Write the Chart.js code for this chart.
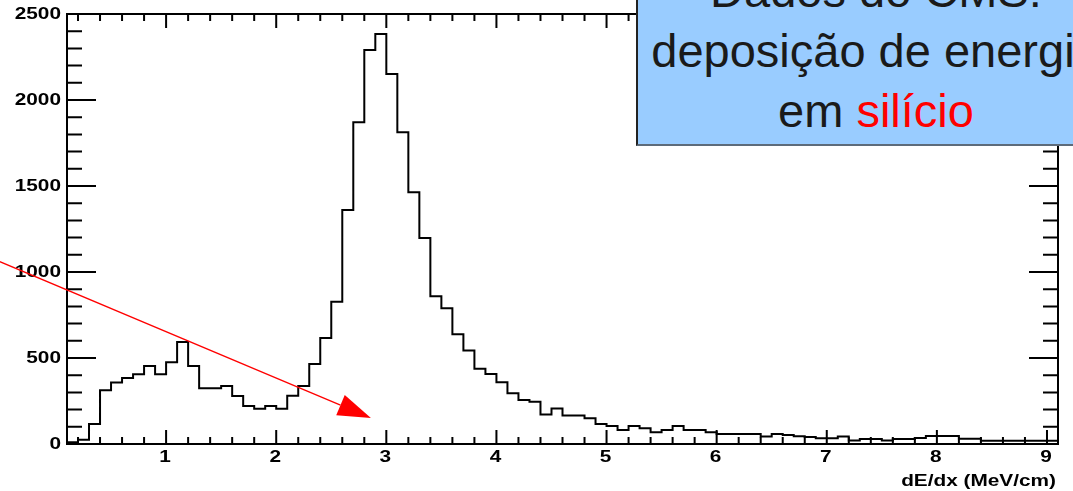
<!DOCTYPE html>
<html>
<head>
<meta charset="utf-8">
<script src="https://cdn.jsdelivr.net/npm/chart.js@4.4.1/dist/chart.umd.min.js"></script>
<style>
  body { margin: 0; background: #fff; }
  #wrap { position: relative; width: 1073px; height: 491px; overflow: hidden; }
  #note {
    position: absolute; left: 636px; top: -50px; width: 478px; height: 196px;
    box-sizing: border-box; background: #99ccff;
    border-left: 2px solid #222; border-bottom: 2px solid #5d6b7a;
    font-family: "Liberation Sans", Arial, sans-serif; font-size: 47px;
    line-height: 60px; color: #1a1a1a; text-align: center;
    padding-top: 11px; white-space: nowrap;
  }
  #note .red { color: #ff0000; }
</style>
</head>
<body>
<div id="wrap">
  <canvas id="chart" width="1073" height="491"></canvas>
  <div id="note">
    <div>Dados do CMS:</div>
    <div>deposição de energia</div>
    <div>em <span class="red">silício</span></div>
  </div>
</div>
<script>
// histogram of dE/dx, bins of 0.1 MeV/cm from 0.1 to 9.1
var binLow = 0.1;
var binWidth = 0.1;
var counts = [
    10, 25, 116, 312, 357, 384, 405, 453, 405, 475,
    593, 453, 324, 324, 337, 279, 221, 205, 221, 205,
    281, 337, 465, 616, 827, 1360, 1870, 2291, 2384, 2151,
    1812, 1463, 1198, 859, 789, 638, 543, 438, 407, 359,
    295, 256, 246, 172, 207, 165, 165, 149, 116, 105,
    81, 105, 91, 68, 81, 105, 81, 81, 68, 58,
    58, 58, 58, 43, 58, 52, 45, 40, 33, 33,
    43, 20, 29, 29, 20, 29, 29, 35, 47, 47,
    47, 31, 31, 19, 19, 19, 19, 19, 19, 19
];
var xTickLabels = ['1', '2', '3', '4', '5', '6', '7', '8', '9'];
var yTickLabels = ['0', '500', '1000', '1500', '2000', '2500'];
var xMinorStep = 0.2;
var yMinorStep = 100;
var axisTitle = 'dE/dx (MeV/cm)';

// red arrow, in data coordinates
var arrowFrom = [-0.51, 1060];
var arrowTo = [2.86, 151];

var xMin = binLow;
var xMax = Math.round((binLow + counts.length * binWidth) * 10) / 10;

// stepped outline: start on the baseline, one point per bin, close at the last edge
var points = [{x: xMin, y: 0}];
for (var i = 0; i < counts.length; i++) {
    points.push({x: Math.round((binLow + i * binWidth) * 10) / 10, y: counts[i]});
}
points.push({x: xMax, y: counts[counts.length - 1]});

function drawStretched(ctx, text, x, y, align) {
    ctx.save();
    ctx.translate(x, y);
    ctx.scale(1.3, 1);
    ctx.textAlign = align;
    ctx.fillText(text, 0, 0);
    ctx.restore();
}

// ROOT-like frame with ticks on all four sides
var rootFrame = {
    id: 'rootFrame',
    afterDatasetsDraw: function(chart) {
        var ctx = chart.ctx;
        var a = chart.chartArea;
        var xs = chart.scales.x;
        var ys = chart.scales.y;
        ctx.save();
        ctx.strokeStyle = '#000';
        ctx.lineWidth = 2;
        ctx.strokeRect(a.left, a.top, a.right - a.left, a.bottom - a.top);

        ctx.beginPath();
        for (var k = 1; k <= 50; k++) {
            var v = Math.round(k * xMinorStep * 10) / 10;
            if (v <= xMin || v >= xMax) continue;
            var px = xs.getPixelForValue(v);
            var len = (Math.abs(v - Math.round(v)) < 1e-6) ? 14 : 7;
            ctx.moveTo(px, a.bottom);
            ctx.lineTo(px, a.bottom - len);
            ctx.moveTo(px, a.top);
            ctx.lineTo(px, a.top + len);
        }
        for (var m = yMinorStep; m < ys.max; m += yMinorStep) {
            var py = ys.getPixelForValue(m);
            var ylen = (m % 500 === 0) ? 29 : 15;
            ctx.moveTo(a.left, py);
            ctx.lineTo(a.left + ylen, py);
            ctx.moveTo(a.right, py);
            ctx.lineTo(a.right - ylen, py);
        }
        ctx.stroke();

        ctx.fillStyle = '#000';
        ctx.font = 'bold 16px "Liberation Sans", Arial, sans-serif';
        ctx.textBaseline = 'middle';
        xTickLabels.forEach(function(t) {
            drawStretched(ctx, t, xs.getPixelForValue(Number(t)) - 1, a.bottom + 14, 'center');
        });
        yTickLabels.forEach(function(t) {
            drawStretched(ctx, t, a.left - 6, ys.getPixelForValue(Number(t)) + 1, 'right');
        });
        ctx.textBaseline = 'alphabetic';
        drawStretched(ctx, axisTitle, a.right - 2, 486, 'right');

        // arrow
        var x0 = xs.getPixelForValue(arrowFrom[0]), y0 = ys.getPixelForValue(arrowFrom[1]);
        var x1 = xs.getPixelForValue(arrowTo[0]), y1 = ys.getPixelForValue(arrowTo[1]);
        var ang = Math.atan2(y1 - y0, x1 - x0);
        var headLen = 33, headHalf = 11;
        var bx = x1 - headLen * Math.cos(ang), by = y1 - headLen * Math.sin(ang);
        ctx.strokeStyle = '#ff0000';
        ctx.fillStyle = '#ff0000';
        ctx.lineWidth = 1.3;
        ctx.beginPath();
        ctx.moveTo(x0, y0);
        ctx.lineTo(bx, by);
        ctx.stroke();
        ctx.beginPath();
        ctx.moveTo(x1, y1);
        ctx.lineTo(bx + headHalf * Math.sin(ang), by - headHalf * Math.cos(ang));
        ctx.lineTo(bx - headHalf * Math.sin(ang), by + headHalf * Math.cos(ang));
        ctx.closePath();
        ctx.fill();
        ctx.restore();
    }
};

var ctx = document.getElementById('chart').getContext('2d');
new Chart(ctx, {
    type: 'line',
    data: {
        datasets: [{
            data: points,
            stepped: 'before',
            borderColor: '#000',
            borderWidth: 2,
            borderJoinStyle: 'miter',
            pointRadius: 0,
            fill: false
        }]
    },
    options: {
        responsive: false,
        animation: false,
        layout: { padding: { left: 67, top: 14, right: 15, bottom: 47 } },
        plugins: { legend: { display: false }, tooltip: { enabled: false } },
        scales: {
            x: { type: 'linear', min: xMin, max: xMax, display: false },
            y: { type: 'linear', min: 0, max: 2500, display: false }
        }
    },
    plugins: [rootFrame]
});
</script>
</body>
</html>
